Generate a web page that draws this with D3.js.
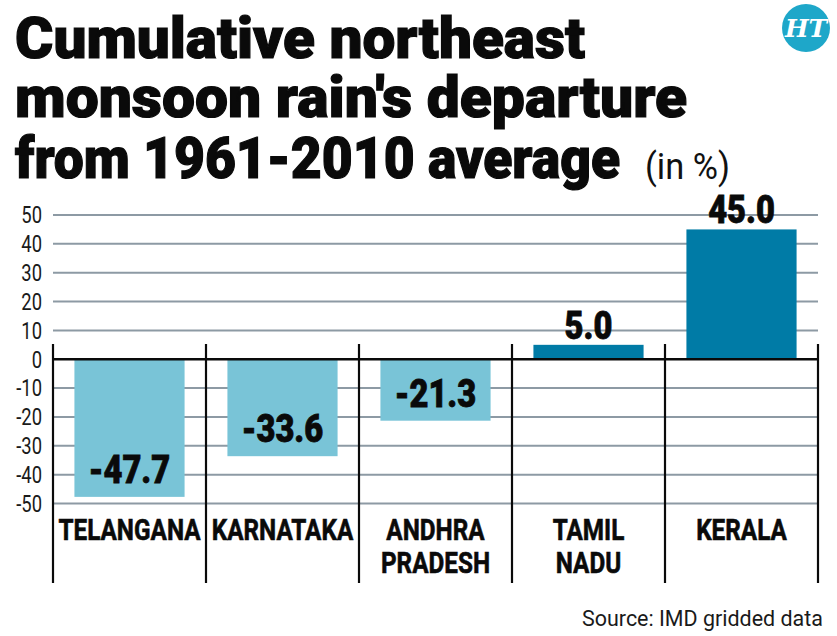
<!DOCTYPE html>
<html>
<head>
<meta charset="utf-8">
<script src="https://cdn.jsdelivr.net/npm/d3@7"></script>
<style>
  html, body { margin: 0; padding: 0; background: #ffffff; }
  svg { display: block; }
</style>
</head>
<body>
<svg id="chart" width="837" height="636"></svg>
<script>
// ---- data ----
const categories = ["TELANGANA", "KARNATAKA", "ANDHRA PRADESH", "TAMIL NADU", "KERALA"];
const categoryLines = [["TELANGANA"], ["KARNATAKA"], ["ANDHRA", "PRADESH"], ["TAMIL", "NADU"], ["KERALA"]];
const values = [-47.7, -33.6, -21.3, 5.0, 45.0];
const valueLabels = ["-47.7", "-33.6", "-21.3", "5.0", "45.0"];
const yTicks = [50, 40, 30, 20, 10, 0, -10, -20, -30, -40, -50];
const titleLines = ["Cumulative northeast", "monsoon rain's departure", "from 1961-2010 average"];
const titleUnit = "(in %)";
const sourceText = "Source: IMD gridded data";

// ---- setup ----
const svg = d3.select("#chart");
const FONT = "Roboto, 'Open Sans', 'Liberation Sans', sans-serif";
const COND = 0.8;

function condense(sel, f) {
  sel.each(function () {
    const L = this.getComputedTextLength();
    d3.select(this).attr("textLength", L * f).attr("lengthAdjust", "spacingAndGlyphs");
  });
}
function fitWidth(sel, w) {
  sel.attr("textLength", w).attr("lengthAdjust", "spacingAndGlyphs");
}

const x = d3.scaleBand().domain(categories).range([53, 818]).paddingInner(0.28).paddingOuter(0.14);
const y = d3.scaleLinear().domain([-50, 50]).range([503.5, 215]);

// ---- title ----
const titleW = [570, 672, 605];
const titleY = [58, 117, 178];
titleLines.forEach((t, i) => {
  svg.append("text")
    .attr("x", 15).attr("y", titleY[i])
    .attr("font-family", FONT).attr("font-weight", 900).attr("font-size", 58)
    .attr("fill", "#0a0a0a").attr("stroke", "#0a0a0a").attr("stroke-width", 1.2)
    .text(t)
    .call(fitWidth, titleW[i]);
});
svg.append("text")
  .attr("x", 645).attr("y", 179)
  .attr("font-family", FONT).attr("font-size", 36).attr("fill", "#111")
  .text(titleUnit)
  .call(fitWidth, 85);

// ---- HT logo ----
svg.append("circle").attr("cx", 806).attr("cy", 28).attr("r", 24).attr("fill", "#1ea7c9");
svg.append("text")
  .attr("x", 806).attr("y", 37).attr("text-anchor", "middle")
  .attr("font-family", "'DejaVu Serif', serif").attr("font-style", "italic").attr("font-weight", "bold")
  .attr("font-size", 25).attr("fill", "#ffffff")
  .text("HT");

// ---- gridlines ----
const [x0, x1] = x.range();
svg.append("g").selectAll("line")
  .data(yTicks.filter(d => d !== 0))
  .join("line")
  .attr("x1", x0).attr("x2", x1)
  .attr("y1", d => y(d)).attr("y2", d => y(d))
  .attr("stroke", "#8d9aa4").attr("stroke-width", 2);

// ---- y axis tick labels ----
svg.append("g").selectAll("text")
  .data(yTicks)
  .join("text")
  .attr("x", 42).attr("y", d => y(d))
  .attr("dy", "0.36em")
  .attr("text-anchor", "end")
  .attr("font-family", FONT).attr("font-size", 23).attr("fill", "#1a1a1a")
  .text(d => d)
  .call(condense, COND);

// ---- bars ----
svg.append("g").selectAll("rect")
  .data(values)
  .join("rect")
  .attr("x", (d, i) => x(categories[i]))
  .attr("width", x.bandwidth())
  .attr("y", d => y(Math.max(0, d)))
  .attr("height", d => Math.abs(y(d) - y(0)))
  .attr("fill", d => d < 0 ? "#79c4d7" : "#007ba6");

// ---- separators ----
const half = x.step() * x.paddingInner() / 2;
const sepX = categories.map(c => x(c) - half).concat([x1]);
svg.append("g").selectAll("line")
  .data(sepX)
  .join("line")
  .attr("x1", d => d).attr("x2", d => d)
  .attr("y1", 344).attr("y2", 583)
  .attr("stroke", "#0a0a0a").attr("stroke-width", 2.2);

// ---- zero line ----
svg.append("line")
  .attr("x1", x0).attr("x2", x1)
  .attr("y1", y(0)).attr("y2", y(0))
  .attr("stroke", "#0a0a0a").attr("stroke-width", 2.6);

// ---- value labels ----
svg.append("g").selectAll("text")
  .data(values)
  .join("text")
  .attr("x", (d, i) => x(categories[i]) + x.bandwidth() / 2)
  .attr("y", d => d < 0 ? y(d) - 14 : y(d) - 6)
  .attr("text-anchor", "middle")
  .attr("font-family", FONT).attr("font-weight", 900).attr("font-size", 38)
  .attr("fill", "#0a0a0a").attr("stroke", "#0a0a0a").attr("stroke-width", 0.8)
  .text((d, i) => valueLabels[i])
  .call(condense, 0.86);

// ---- category labels ----
const catG = svg.append("g");
categoryLines.forEach((lines, i) => {
  lines.forEach((ln, j) => {
    catG.append("text")
      .attr("x", x(categories[i]) + x.bandwidth() / 2)
      .attr("y", 540 + j * 33)
      .attr("text-anchor", "middle")
      .attr("font-family", FONT).attr("font-weight", 700).attr("font-size", 30)
      .attr("fill", "#0a0a0a").attr("stroke", "#0a0a0a").attr("stroke-width", 0.6)
      .text(ln)
      .call(condense, 0.81);
  });
});

// ---- source ----
svg.append("text")
  .attr("x", 823).attr("y", 626)
  .attr("text-anchor", "end")
  .attr("font-family", FONT).attr("font-size", 22).attr("fill", "#1a1a1a")
  .text(sourceText)
  .call(fitWidth, 241);
</script>
</body>
</html>
